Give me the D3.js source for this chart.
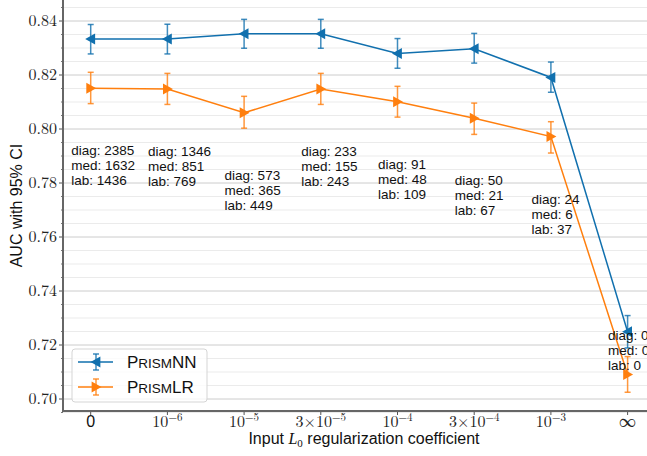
<!DOCTYPE html>
<html>
<head>
<meta charset="utf-8">
<script src="https://cdn.jsdelivr.net/npm/d3@7"></script>
<style>
  body { margin: 0; background: #fff; }
  svg { display: block; }
  .ann { font-family: "Liberation Sans", Arial, sans-serif; font-size: 13.5px; fill: #111; }
  .tick-serif { font-family: "Latin Modern Roman", "Liberation Serif", serif; font-size: 16px; fill: #222; }
</style>
</head>
<body>
<svg id="chart" width="647" height="456"></svg>
<script>
// data
const coefLabels = ["0", "1e-6", "1e-5", "3e-5", "1e-4", "3e-4", "1e-3", "inf"];
const nnAuc  = [0.8333, 0.8333, 0.8353, 0.8353, 0.8280, 0.8297, 0.8191, 0.7249];
const nnLow  = [0.8278, 0.8278, 0.8299, 0.8299, 0.8225, 0.8244, 0.8136, 0.7189];
const nnHigh = [0.8387, 0.8388, 0.8406, 0.8406, 0.8335, 0.8354, 0.8248, 0.7309];
const lrAuc  = [0.8151, 0.8148, 0.8060, 0.8148, 0.8101, 0.8040, 0.7972, 0.7091];
const lrLow  = [0.8094, 0.8091, 0.8003, 0.8091, 0.8044, 0.7980, 0.7911, 0.7025];
const lrHigh = [0.8210, 0.8206, 0.8121, 0.8206, 0.8158, 0.8096, 0.8027, 0.7157];
const diagCount = [2385, 1346, 573, 233, 91, 50, 24, 0];
const medCount  = [1632, 851, 365, 155, 48, 21, 6, 0];
const labCount  = [1436, 769, 449, 243, 109, 67, 37, 0];
const yTicks = [0.70, 0.72, 0.74, 0.76, 0.78, 0.80, 0.82, 0.84];

const BLUE = "#1170ae", ORANGE = "#ff7f0e";

const svg = d3.select("#chart");
const mLeft = 63, mBottom = 411, mRight = 647, mTop = 0;

const x = d3.scaleLinear().domain([0, 7]).range([90.7, 627.6]);
const y = d3.scaleLinear().domain([0.70, 0.84]).range([399, 21]);

// grid
const minor = d3.range(0.695, 0.8475, 0.005).filter(v => Math.abs(Math.round(v / 0.02) * 0.02 - v) > 1e-6);
svg.append("g").selectAll("line").data(minor).join("line")
  .attr("x1", mLeft).attr("x2", mRight)
  .attr("y1", d => y(d)).attr("y2", d => y(d))
  .attr("stroke", "#ebebeb").attr("stroke-width", 1);
svg.append("g").selectAll("line").data(yTicks).join("line")
  .attr("x1", mLeft).attr("x2", mRight)
  .attr("y1", d => y(d)).attr("y2", d => y(d))
  .attr("stroke", "#cccccc").attr("stroke-width", 1);

// y axis ticks + labels
svg.append("g").selectAll("line").data(minor).join("line")
  .attr("x1", mLeft - 2).attr("x2", mLeft)
  .attr("y1", d => y(d)).attr("y2", d => y(d))
  .attr("stroke", "#555").attr("stroke-width", 0.8);
svg.append("g").selectAll("line").data(yTicks).join("line")
  .attr("x1", mLeft - 4).attr("x2", mLeft)
  .attr("y1", d => y(d)).attr("y2", d => y(d))
  .attr("stroke", "#555").attr("stroke-width", 1);
svg.append("g").selectAll("text").data(yTicks).join("text")
  .attr("class", "tick-serif")
  .attr("x", mLeft - 6).attr("y", d => y(d) + 5)
  .attr("text-anchor", "end")
  .text(d => d3.format(".2f")(d));

// x axis ticks
svg.append("g").selectAll("line").data(coefLabels).join("line")
  .attr("x1", (d, i) => x(i)).attr("x2", (d, i) => x(i))
  .attr("y1", mBottom).attr("y2", mBottom + 4)
  .attr("stroke", "#555").attr("stroke-width", 1);

const xl = svg.append("g");
coefLabels.forEach((lab, i) => {
  const cx = x(i), by = 427;
  if (lab === "0") {
    xl.append("text").attr("x", cx).attr("y", by)
      .attr("text-anchor", "middle")
      .style("font-family", "Liberation Sans, Arial, sans-serif").style("font-size", "16px").style("fill", "#111")
      .text("0");
  } else if (lab === "inf") {
    xl.append("text").attr("class", "tick-serif").attr("x", cx).attr("y", by)
      .attr("text-anchor", "middle").style("font-size", "17px").text("\u221e");
  } else {
    const [m, e] = lab.split("e");
    const t = xl.append("text").attr("class", "tick-serif").attr("x", cx).attr("y", by)
      .attr("text-anchor", "middle");
    t.append("tspan").text((m === "1" ? "" : m + "\u00d7") + "10");
    t.append("tspan").attr("dy", -6).style("font-size", "11px").text("\u2212" + e.replace("-", ""));
  }
});

// spines
svg.append("line").attr("x1", mLeft).attr("x2", mLeft).attr("y1", mTop).attr("y2", mBottom + 1)
  .attr("stroke", "#666").attr("stroke-width", 2);
svg.append("line").attr("x1", mLeft - 1).attr("x2", mRight).attr("y1", mBottom).attr("y2", mBottom)
  .attr("stroke", "#666").attr("stroke-width", 2);

// axis labels
svg.append("text")
  .attr("transform", `translate(22,${(mTop + mBottom) / 2}) rotate(-90)`)
  .attr("text-anchor", "middle")
  .style("font-family", "Liberation Sans, Arial, sans-serif").style("font-size", "16px").style("fill", "#111")
  .text("AUC with 95% CI");
const xt = svg.append("text")
  .attr("x", 364).attr("y", 444).attr("text-anchor", "middle")
  .style("font-family", "Liberation Sans, Arial, sans-serif").style("font-size", "16px").style("fill", "#111");
xt.append("tspan").text("Input ");
xt.append("tspan").style("font-family", "Liberation Serif, serif").style("font-style", "italic").text("L");
xt.append("tspan").attr("dy", 3).style("font-family", "Liberation Serif, serif").style("font-size", "11px").text("0");
xt.append("tspan").attr("dy", -3).text(" regularization coefficient");

// series
function triangle(dir) {
  // left- or right-pointing triangle path centred at origin
  const s = 5.5;
  return dir === "left"
    ? `M${-s},0L${s * 0.8},${-s}L${s * 0.8},${s}Z`
    : `M${s},0L${-s * 0.8},${-s}L${-s * 0.8},${s}Z`;
}

function drawSeries(vals, lo, hi, color, dir) {
  const g = svg.append("g");
  const line = d3.line().x((d, i) => x(i)).y(d => y(d));
  g.append("path").datum(vals).attr("d", line)
    .attr("fill", "none").attr("stroke", color).attr("stroke-width", 1.5);
  vals.forEach((v, i) => {
    const cx = x(i);
    g.append("line").attr("x1", cx).attr("x2", cx).attr("y1", y(lo[i])).attr("y2", y(hi[i]))
      .attr("stroke", color).attr("stroke-width", 1.5).attr("opacity", 0.8);
    [lo[i], hi[i]].forEach(c => {
      g.append("line").attr("x1", cx - 3).attr("x2", cx + 3).attr("y1", y(c)).attr("y2", y(c))
        .attr("stroke", color).attr("stroke-width", 1.5).attr("opacity", 0.8);
    });
    g.append("path").attr("d", triangle(dir))
      .attr("transform", `translate(${cx},${y(v)})`)
      .attr("fill", color);
  });
}
drawSeries(lrAuc, lrLow, lrHigh, ORANGE, "right");
drawSeries(nnAuc, nnLow, nnHigh, BLUE, "left");

// count annotations, hung below the PrismLR point (or the PrismNN point if off-axis)
const ann = svg.append("g");
diagCount.forEach((d, i) => {
  let anchor = lrAuc[i] - 0.0212;
  if (anchor < 0.6956) anchor = nnAuc[i] + 0.0005;
  const t = ann.append("text").attr("class", "ann")
    .attr("x", x(i) - 19.5).attr("y", y(anchor) + 10);
  ["diag: " + d, "med: " + medCount[i], "lab: " + labCount[i]].forEach((s, k) => {
    t.append("tspan").attr("x", x(i) - 19.5).attr("dy", k === 0 ? 0 : 15).text(s);
  });
});

// legend
const lg = svg.append("g").attr("transform", "translate(72,349)");
lg.append("rect").attr("width", 135).attr("height", 53).attr("rx", 3)
  .attr("fill", "rgba(255,255,255,0.8)").attr("stroke", "#d5d5d5");
[["NN", BLUE, "left", 13], ["LR", ORANGE, "right", 38]].forEach(([suf, col, dir, yy]) => {
  lg.append("line").attr("x1", 6).attr("x2", 41).attr("y1", yy).attr("y2", yy)
    .attr("stroke", col).attr("stroke-width", 1.5);
  lg.append("line").attr("x1", 24).attr("x2", 24).attr("y1", yy - 8).attr("y2", yy + 8)
    .attr("stroke", col).attr("stroke-width", 1.5).attr("opacity", 0.8);
  [yy - 8, yy + 8].forEach(c => lg.append("line").attr("x1", 21).attr("x2", 27).attr("y1", c).attr("y2", c)
    .attr("stroke", col).attr("stroke-width", 1.5).attr("opacity", 0.8));
  lg.append("path").attr("d", triangle(dir)).attr("transform", `translate(24,${yy})`).attr("fill", col);
  const t = lg.append("text").attr("x", 55).attr("y", yy + 6)
    .style("font-family", "Liberation Sans, Arial, sans-serif").style("font-size", "17px").style("fill", "#111");
  t.append("tspan").text("P");
  t.append("tspan").style("font-size", "13.5px").text("RISM");
  t.append("tspan").text(suf);
});
</script>
</body>
</html>
